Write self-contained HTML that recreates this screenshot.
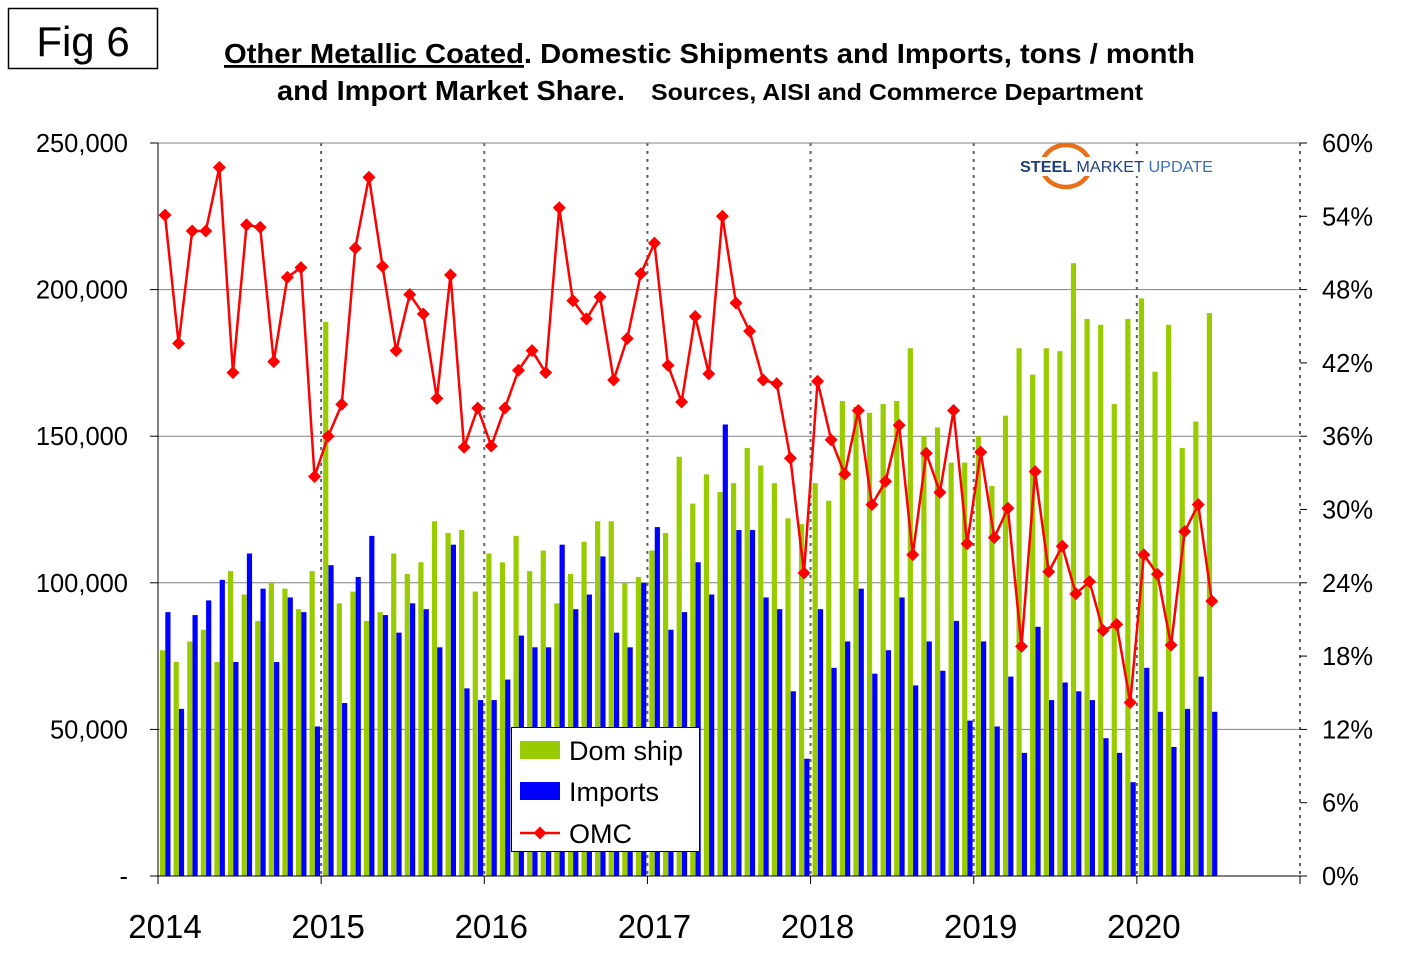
<!DOCTYPE html>
<html><head><meta charset="utf-8"><style>
body{margin:0;background:#fff;font-family:"Liberation Sans",Arial,sans-serif;}
svg{display:block}
</style></head><body>
<svg id="chart" width="1420" height="973" viewBox="0 0 1420 973" xmlns="http://www.w3.org/2000/svg" font-family="Liberation Sans, Arial, sans-serif">
<rect x="0" y="0" width="1420" height="973" fill="#fff"/>
<g>
<rect x="8.5" y="8.5" width="149" height="60" fill="#fff" stroke="#000" stroke-width="1.5"/>
<text x="83" y="56" font-size="42" text-anchor="middle">Fig 6</text>
</g>
<text x="224" y="63" font-size="28" font-weight="bold" textLength="971" lengthAdjust="spacingAndGlyphs"><tspan text-decoration="underline">Other Metallic Coated</tspan>. Domestic Shipments and Imports, tons / month</text>
<text x="277" y="100" font-size="28" font-weight="bold" textLength="348" lengthAdjust="spacingAndGlyphs">and Import Market Share.</text>
<text x="651" y="100" font-size="23" font-weight="bold" textLength="492" lengthAdjust="spacingAndGlyphs">Sources, AISI and Commerce Department</text>
<g id="grid"></g>
<g id="bars"></g>
<g id="line"></g>
<g id="axes"></g>
<g>
<ellipse cx="1066" cy="166" rx="24" ry="21" fill="none" stroke="#e8701a" stroke-width="4.5"/>
<rect x="1018" y="157" width="196" height="19" fill="#fff"/>
<text x="1020" y="172" font-size="15.5" font-weight="bold" fill="#1f3f7a" textLength="193" lengthAdjust="spacingAndGlyphs">STEEL <tspan font-weight="normal" fill="#1f3f7a">MARKET</tspan> <tspan font-weight="normal" fill="#3b6fb6">UPDATE</tspan></text>
</g>
<g>
<rect x="511.5" y="727.5" width="188" height="124" fill="#fff" stroke="#000" stroke-width="1"/>
<g><rect x="520" y="741" width="40" height="18" fill="#99cc00"/><text x="569" y="760" font-size="27">Dom ship</text></g>
<g><rect x="520" y="782" width="40" height="18" fill="#0000ff"/><text x="569" y="801" font-size="27">Imports</text></g>
<g><line x1="520" y1="833" x2="560" y2="833" stroke="#ff0000" stroke-width="2.5"/><path d="M540 826.5 L546.5 833 L540 839.5 L533.5 833Z" fill="#ff0000"/><text x="569" y="843" font-size="27">OMC</text></g>
</g>
</svg>
<script>
const domShip=[77,73,80,84,73,104,96,87,100,98,91,104,
189,93,97,87,90,110,103,107,121,117,118,97,
110,107,116,104,111,93,103,114,121,121,100,102,
111,117,143,127,137,131,134,146,140,134,122,120,
134,128,162,160,158,161,162,180,150,153,141,141,
150,133,157,180,171,180,179,209,190,188,161,190,
197,172,188,146,155,192];
const imports=[90,57,89,94,101,73,110,98,73,95,90,51,
106,59,102,116,89,83,93,91,78,113,64,60,
60,67,82,78,78,113,91,96,109,83,78,100,
119,84,90,107,96,154,118,118,95,91,63,40,
91,71,80,98,69,77,95,65,80,70,87,53,
80,51,68,42,85,60,66,63,60,47,42,32,
71,56,44,57,68,56];
const omc=[54.1,43.6,52.8,52.8,58.0,41.2,53.3,53.1,42.1,49.0,49.8,32.7,
36.0,38.6,51.4,57.2,49.9,43.0,47.6,46.0,39.1,49.2,35.1,38.3,
35.2,38.3,41.4,43.0,41.2,54.7,47.1,45.6,47.4,40.6,44.0,49.3,
51.8,41.8,38.8,45.8,41.1,54.0,46.9,44.6,40.6,40.3,34.2,24.8,
40.5,35.7,32.9,38.1,30.4,32.3,36.9,26.3,34.6,31.4,38.1,27.2,
34.7,27.7,30.1,18.8,33.1,24.9,27.0,23.1,24.1,20.1,20.6,14.2,
26.3,24.7,18.9,28.2,30.4,22.5];
const years=["2014","2015","2016","2017","2018","2019","2020"];
const leftTicks=["-","50,000","100,000","150,000","200,000","250,000"];
const leftTickValues=[0,50,100,150,200,250];
const rightTicks=["0%","6%","12%","18%","24%","30%","36%","42%","48%","54%","60%"];
const rightTickValues=[0,6,12,18,24,30,36,42,48,54,60];

const NS="http://www.w3.org/2000/svg";
const X0=158,X1=1300,Y0=876,Y1=143,MONTHS=84;
const mw=(X1-X0)/MONTHS;
function xm(i){return X0+i*mw;}
function yl(v){return Y0-(v/250)*(Y0-Y1);}
function yr(p){return Y0-(p/60)*(Y0-Y1);}
function mk(tag,attrs,parent){const e=document.createElementNS(NS,tag);for(const k in attrs)e.setAttribute(k,attrs[k]);parent.appendChild(e);return e;}
const grid=document.getElementById('grid'),bars=document.getElementById('bars'),line=document.getElementById('line'),axes=document.getElementById('axes');
leftTickValues.forEach((v,i)=>{
  if(v>0){const g=mk('line',{x1:X0,x2:X1,y1:yl(v),y2:yl(v),stroke:'#808080','stroke-width':1},grid);
  
  }
  const t=mk('text',{x:128,y:yl(v)+9,'font-size':25.5,'text-anchor':'end'},axes);t.textContent=leftTicks[i];
  
  
  mk('line',{x1:X0-8,x2:X0,y1:yl(v),y2:yl(v),stroke:'#000'},axes);
});
rightTickValues.forEach((p,i)=>{
  const t=mk('text',{x:1322,y:yr(p)+9,'font-size':25.5},axes);t.textContent=rightTicks[i];
  
  
  mk('line',{x1:X1,x2:X1+7,y1:yr(p),y2:yr(p),stroke:'#000'},axes);
});
for(let y=1;y<=7;y++){
  const gx=xm(y*12);
  const d=mk('line',{x1:gx,x2:gx,y1:Y1,y2:Y0,stroke:'#606060','stroke-width':2,'stroke-dasharray':'3,5'},grid);
  
  
}
years.forEach((yy,i)=>{
  const t=mk('text',{x:xm(i*12)+7,y:938,'font-size':33,'text-anchor':'middle'},axes);t.textContent=yy;
  
  
});
for(let i=0;i<=MONTHS;i+=12){mk('line',{x1:xm(i),x2:xm(i),y1:Y0,y2:Y0+8,stroke:'#000'},axes);}
domShip.forEach((v,i)=>{
  const r=mk('rect',{x:xm(i)+2,y:yl(v),width:5.2,height:Y0-yl(v),fill:'#99cc00'},bars);
  
  
});
imports.forEach((v,i)=>{
  const r=mk('rect',{x:xm(i)+7.3,y:yl(v),width:5.2,height:Y0-yl(v),fill:'#0000ff'},bars);
  
  
});
const pts=omc.map((p,i)=>[xm(i)+7,yr(p)]);
const pl=mk('polyline',{points:pts.map(p=>p.join(',')).join(' '),fill:'none',stroke:'#ff0000','stroke-width':2.5},line);


pts.forEach(([x,y])=>{
  const d=mk('path',{d:`M${x} ${y-6.5} L${x+6.5} ${y} L${x} ${y+6.5} L${x-6.5} ${y}Z`,fill:'#ff0000'},line);
  
  
});
mk('line',{x1:X0,x2:X0,y1:Y1,y2:Y0,stroke:'#000','stroke-width':1},axes);
mk('line',{x1:X0,x2:X1,y1:Y0,y2:Y0,stroke:'#000','stroke-width':1},axes);
mk('line',{x1:X0,x2:X1,y1:Y1,y2:Y1,stroke:'#808080','stroke-width':1},grid);
</script>
</body></html>
